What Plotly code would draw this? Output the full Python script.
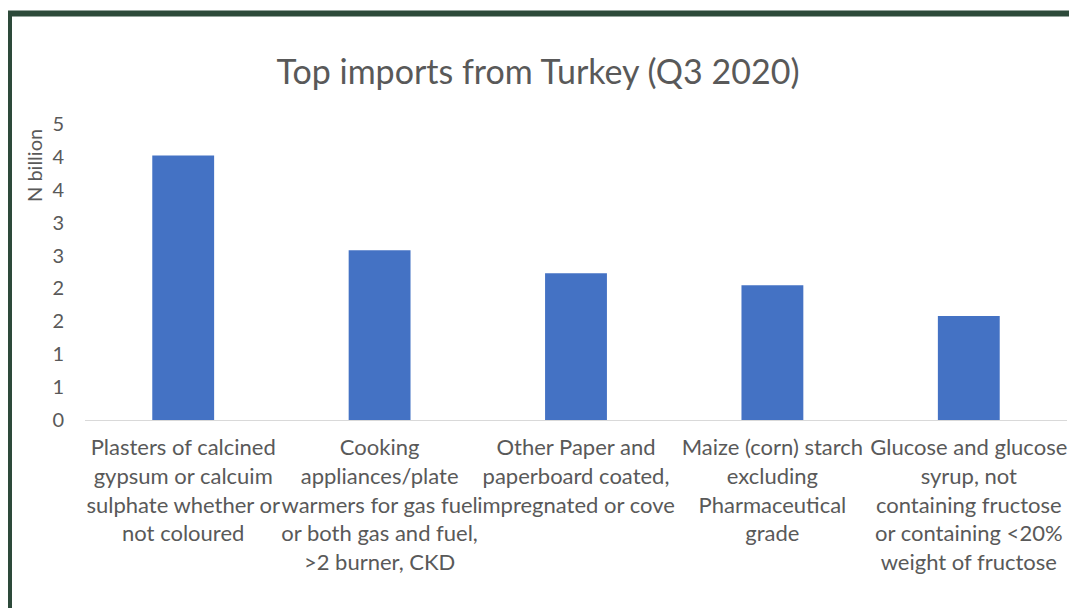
import plotly.graph_objects as go

W, H = 1077, 608
OFF = 8  # the page body margin shifts the figure by this many pixels

CATEGORIES = [
    "Plasters of calcined<br>gypsum or calcuim<br>sulphate whether or<br>not coloured",
    "Cooking<br>appliances/plate<br>warmers for gas fuel<br>or both gas and fuel,<br>&gt;2 burner, CKD",
    "Other Paper and<br>paperboard coated,<br>impregnated or cove",
    "Maize (corn) starch<br>excluding<br>Pharmaceutical<br>grade",
    "Glucose and glucose<br>syrup, not<br>containing fructose<br>or containing &lt;20%<br>weight of fructose",
]
VALUES = [4.02, 2.58, 2.23, 2.05, 1.58]

Y_TICK_VALS = [0, 0.5, 1, 1.5, 2, 2.5, 3, 3.5, 4, 4.5]
Y_TICK_TEXT = ["0", "1", "1", "2", "2", "3", "3", "4", "4", "5"]

FONT = "Lato"
GREY = "#595959"

# plot area in page pixels
PL, PR, PT, PB = 85, 1067, 124, 420
L = PL - OFF
R = W - (PR - OFF)
T = PT - OFF
B = H - (PB - OFF)

fig = go.Figure(go.Bar(
    x=list(range(len(CATEGORIES))),
    y=VALUES,
    marker_color="#4472c4",
    marker_line_width=0,
    width=0.315,
))

pw = PR - PL
ph = PB - PT


def px_x(p):
    return (p - PL) / pw


def px_y(p):
    return (PB - p) / ph


fig.update_layout(
    width=W,
    height=H,
    margin=dict(l=L, r=R, t=T, b=B, autoexpand=False),
    plot_bgcolor="white",
    paper_bgcolor="white",
    showlegend=False,
    font=dict(family=FONT, color=GREY),
    title=dict(
        text="Top imports from Turkey (Q3 2020)",
        x=px_x(538), xanchor="center", xref="paper",
        y=1 - (72 - OFF) / H, yanchor="middle", yref="container",
        font=dict(size=34, color=GREY, family=FONT),
    ),
)
fig.update_xaxes(
    tickmode="array",
    tickvals=list(range(len(CATEGORIES))),
    ticktext=CATEGORIES,
    range=[-0.5, len(CATEGORIES) - 0.5],
    showline=True, linecolor="#d9d9d9", linewidth=1,
    showgrid=False, ticks="", automargin=False,
    tickangle=0,
    tickfont=dict(size=22, color=GREY, family=FONT),
    ticklabelstandoff=8,
)
fig.update_yaxes(
    range=[0, 4.5],
    tickmode="array",
    tickvals=Y_TICK_VALS,
    ticktext=Y_TICK_TEXT,
    showgrid=False, zeroline=False, showline=False, ticks="",
    automargin=False,
    tickfont=dict(size=20, color=GREY, family=FONT),
    ticklabelstandoff=20,
)

fig.add_annotation(
    text="N billion", textangle=-90,
    xref="paper", yref="paper",
    x=px_x(34), y=px_y(166),
    xanchor="center", yanchor="middle",
    showarrow=False,
    font=dict(size=20, color=GREY, family=FONT),
)

# dark green frame around the chart
fig.add_shape(
    type="rect", xref="paper", yref="paper",
    x0=px_x(9), x1=px_x(W + 30), y0=px_y(H + 30), y1=px_y(13.5),
    line=dict(color="#2d4a3a", width=6),
    fillcolor="rgba(0,0,0,0)",
    layer="above",
)

fig.write_html("out.html")
